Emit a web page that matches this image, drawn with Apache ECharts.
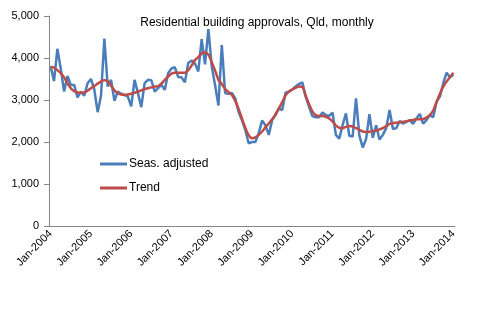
<!DOCTYPE html>
<html>
<head>
<meta charset="utf-8">
<script src="https://cdn.jsdelivr.net/npm/echarts@6/dist/echarts.min.js"></script>
<style>
html,body{margin:0;padding:0;background:#fff;}
#c{width:491px;height:327px;}
</style>
</head>
<body>
<div id="c"></div>
<script>
var titleText = 'Residential building approvals, Qld, monthly';
var seriesNames = ['Seas. adjusted', 'Trend'];
var startYear = 2004;
var monthNames = ['Jan','Feb','Mar','Apr','May','Jun','Jul','Aug','Sep','Oct','Nov','Dec'];
var yTicks = [0, 1000, 2000, 3000, 4000, 5000];

var seasAdjusted = [
  3800, 3450, 4220, 3750, 3200, 3570, 3360, 3360, 3060, 3200, 3100, 3400,
  3500, 3250, 2710, 3100, 4460, 3320, 3480, 2980, 3200, 3150, 3120, 3080,
  2850, 3480, 3170, 2830, 3400, 3480, 3470, 3200, 3280, 3360, 3240, 3635,
  3750, 3780, 3550, 3540, 3420, 3880, 3940, 3870, 3680, 4450, 3850, 4690,
  3800, 3350, 2870, 4310, 3160, 3150, 3170, 3040, 2720, 2520, 2290, 1970,
  2000, 2000, 2210, 2510, 2400, 2170, 2520, 2640, 2800, 2760, 3175, 3200,
  3250, 3320, 3380, 3420, 3080, 2840, 2620, 2590, 2590, 2700, 2640, 2620,
  2700, 2170, 2080, 2400, 2680, 2150, 2130, 3040, 2150, 1870, 2070, 2660,
  2100, 2400, 2060, 2170, 2330, 2760, 2310, 2330, 2500, 2440, 2480, 2520,
  2430, 2560, 2670, 2440, 2520, 2640, 2590, 2960, 3080, 3400, 3650, 3540,
  3600
];
var trend = [
  3790, 3770, 3710, 3640, 3540, 3400, 3280, 3210, 3180, 3170, 3180, 3220,
  3280, 3330, 3390, 3440, 3470, 3450, 3340, 3230, 3160, 3130, 3120, 3130,
  3150, 3170, 3200, 3230, 3260, 3280, 3300, 3320, 3330, 3390, 3480, 3560,
  3630, 3650, 3650, 3650, 3650, 3710, 3820, 3950, 4020, 4110, 4130, 4080,
  3900, 3700, 3480, 3380, 3260, 3190, 3120, 2980, 2790, 2560, 2340, 2160,
  2090, 2110, 2170, 2250, 2350, 2440, 2540, 2660, 2800, 2950, 3110, 3200,
  3250, 3290, 3320, 3310, 3100, 2900, 2730, 2640, 2620, 2620, 2600, 2560,
  2490, 2390, 2340, 2330, 2360, 2380, 2370, 2330, 2290, 2250, 2240, 2245,
  2260, 2270, 2300, 2330, 2380, 2430, 2450, 2460, 2470, 2480, 2495, 2510,
  2525, 2540, 2540, 2545, 2580, 2640, 2750, 2950, 3150, 3320, 3440, 3540,
  3650
];

var categories = [];
for (var i = 0; i < seasAdjusted.length; i++) {
  categories.push(monthNames[i % 12] + '-' + (startYear + Math.floor(i / 12)));
}

var FONT = '"Liberation Sans", Arial, sans-serif';
var chart = echarts.init(document.getElementById('c'), null, {renderer: 'canvas'});
chart.setOption({
  animation: false,
  backgroundColor: '#ffffff',
  title: {
    text: titleText,
    left: 252, top: 12, textAlign: 'center',
    textStyle: {fontFamily: FONT, fontSize: 12, fontWeight: 'normal', color: '#000'}
  },
  legend: {
    orient: 'vertical',
    left: 95, top: 152,
    icon: 'rect',
    itemWidth: 27, itemHeight: 3, itemGap: 10,
    textStyle: {fontFamily: FONT, fontSize: 12, color: '#000', lineHeight: 14, padding: [0, 0, 0, -3]},
    data: seriesNames
  },
  grid: {left: 49, right: 36, top: 16, bottom: 101, containLabel: false},
  xAxis: {
    type: 'category',
    data: categories,
    boundaryGap: true,
    axisLine: {lineStyle: {color: '#868686', width: 1}},
    axisTick: {interval: 11, length: 5, lineStyle: {color: '#868686'}},
    axisLabel: {interval: 11, rotate: 45, fontFamily: FONT, fontSize: 11, color: '#000', margin: 6},
    splitLine: {show: false}
  },
  yAxis: {
    type: 'value',
    min: yTicks[0], max: yTicks[yTicks.length - 1], interval: 1000,
    axisLine: {show: true, lineStyle: {color: '#868686', width: 1}},
    axisTick: {show: true, length: 5, lineStyle: {color: '#868686'}},
    axisLabel: {
      fontFamily: FONT, fontSize: 11, color: '#000', margin: 10,
      formatter: function (v) { return v.toLocaleString('en-US'); }
    },
    splitLine: {show: false}
  },
  series: [
    {
      name: seriesNames[0], type: 'line', data: seasAdjusted,
      symbol: 'none', lineStyle: {color: '#4A7EBB', width: 2.5}, itemStyle: {color: '#4A7EBB'}, z: 2
    },
    {
      name: seriesNames[1], type: 'line', data: trend,
      symbol: 'none', smooth: 0.3, lineStyle: {color: '#BE4B48', width: 2.5}, itemStyle: {color: '#BE4B48'}, z: 3
    }
  ]
});
</script>
</body>
</html>
